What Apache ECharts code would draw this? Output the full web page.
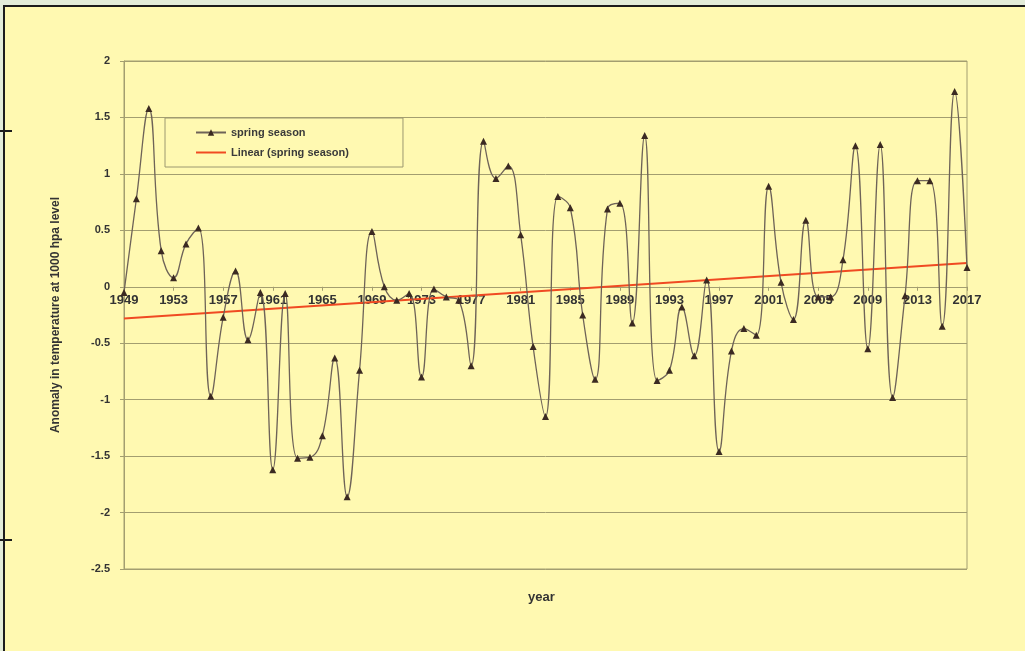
<!DOCTYPE html>
<html>
<head>
<meta charset="utf-8">
<script src="https://cdn.jsdelivr.net/npm/echarts@6/dist/echarts.min.js"></script>
<style>
  html, body { margin: 0; padding: 0; width: 1025px; height: 651px; overflow: hidden; background: #E3ECD9; }
  #frame { position: absolute; left: 3px; top: 5px; width: 1022px; height: 646px; background: #FFF9B1;
           border-top: 2px solid #1c1c1c; border-left: 2px solid #1c1c1c; box-sizing: border-box; }
  .tick { position: absolute; left: 0; width: 12px; height: 2px; background: #1c1c1c; }
  #chart { position: absolute; left: 0; top: 0; width: 1025px; height: 651px; }
</style>
</head>
<body>
<div id="frame"></div>
<div class="tick" style="top:130px"></div>
<div class="tick" style="top:539px"></div>
<div id="chart"></div>
<script>
const years = ['1949','1950','1951','1952','1953','1954','1955','1956','1957','1958',
  '1959','1960','1961','1962','1963','1964','1965','1966','1967','1968',
  '1969','1970','1971','1972','1973','1974','1975','1976','1977','1978',
  '1979','1980','1981','1982','1983','1984','1985','1986','1987','1988',
  '1989','1990','1991','1992','1993','1994','1995','1996','1997','1998',
  '1999','2000','2001','2002','2003','2004','2005','2006','2007','2008',
  '2009','2010','2011','2012','2013','2014','2015','2016','2017'];

const springSeason = [-0.05, 0.78, 1.58, 0.32, 0.08, 0.38, 0.52, -0.97, -0.27, 0.14,
  -0.47, -0.05, -1.62, -0.06, -1.52, -1.51, -1.32, -0.63, -1.86, -0.74,
  0.49, 0.00, -0.12, -0.06, -0.80, -0.02, -0.09, -0.12, -0.70, 1.29,
  0.96, 1.07, 0.46, -0.53, -1.15, 0.80, 0.70, -0.25, -0.82, 0.69,
  0.74, -0.32, 1.34, -0.83, -0.74, -0.18, -0.61, 0.06, -1.46, -0.57,
  -0.37, -0.43, 0.89, 0.04, -0.29, 0.59, -0.09, -0.09, 0.24, 1.25,
  -0.55, 1.26, -0.98, -0.08, 0.94, 0.94, -0.35, 1.73, 0.17];

const trendYears = ['1949', '2017'];
const trendValues = [-0.28, 0.21];

const yTicks = { min: -2.5, max: 2, interval: 0.5 };

const gridTop = 61, gridBottom = 82, chartH = 651;
const plotH = chartH - gridTop - gridBottom;
// x-axis sits on the zero line: shift it up from the bottom edge by the pixel distance of 0 above min
const zeroOffset = -plotH * (0 - yTicks.min) / (yTicks.max - yTicks.min);

const chart = echarts.init(document.getElementById('chart'));
const gridColor = '#A39E70';
const font = 'Liberation Sans, Arial, sans-serif';

chart.setOption({
  animation: false,
  backgroundColor: 'transparent',
  grid: { left: 124, right: 58, top: gridTop, bottom: gridBottom, show: true, borderColor: gridColor, borderWidth: 1, backgroundColor: 'transparent' },
  legend: {
    left: 165, top: 118, orient: 'vertical',
    itemGap: 9, padding: [9, 54, 9, 30],
    backgroundColor: '#FFF9B1', borderColor: '#9C9870', borderWidth: 1,
    itemWidth: 30, itemHeight: 8,
    textStyle: { fontFamily: font, fontWeight: 'bold', fontSize: 11, color: '#3a3a3a' },
    data: [
      { name: 'spring season' },
      { name: 'Linear (spring season)', itemStyle: { opacity: 0 } }
    ]
  },
  xAxis: {
    type: 'category',
    data: years,
    boundaryGap: false,
    offset: zeroOffset,
    axisLine: { onZero: false, lineStyle: { color: gridColor, width: 1 } },
    axisTick: { show: true, interval: 3, length: 4, inside: false, lineStyle: { color: gridColor } },
    axisLabel: { interval: 3, fontFamily: font, fontWeight: 'bold', fontSize: 13, color: '#333', margin: 7 },
    splitLine: { show: false }
  },
  yAxis: {
    type: 'value',
    min: yTicks.min, max: yTicks.max, interval: yTicks.interval,
    name: 'Anomaly in temperature at 1000 hpa level',
    nameLocation: 'middle', nameGap: 62, nameRotate: 90,
    nameTextStyle: { fontFamily: font, fontWeight: 'bold', fontSize: 12, color: '#333' },
    axisLine: { show: true, lineStyle: { color: gridColor } },
    axisTick: { show: true, length: 4, lineStyle: { color: gridColor } },
    axisLabel: { fontFamily: font, fontWeight: 'bold', fontSize: 11, color: '#333', margin: 14 },
    splitLine: { show: true, lineStyle: { color: gridColor, width: 1 } }
  },
  graphic: [
    { type: 'text', left: 528, top: 591, style: { text: 'year', font: 'bold 13px ' + font, fill: '#333' } }
  ],
  series: [
    {
      name: 'spring season',
      type: 'line',
      data: springSeason,
      smooth: 0.45,
      symbol: 'triangle',
      symbolSize: 7,
      lineStyle: { color: '#6E6358', width: 1.3 },
      itemStyle: { color: '#3B2A22' },
      z: 3
    },
    {
      name: 'Linear (spring season)',
      type: 'line',
      data: trendYears.map((y, i) => [y, trendValues[i]]),
      symbol: 'none',
      lineStyle: { color: '#F04A22', width: 2 },
      itemStyle: { color: '#F04A22' },
      z: 2
    }
  ]
});
</script>
</body>
</html>
